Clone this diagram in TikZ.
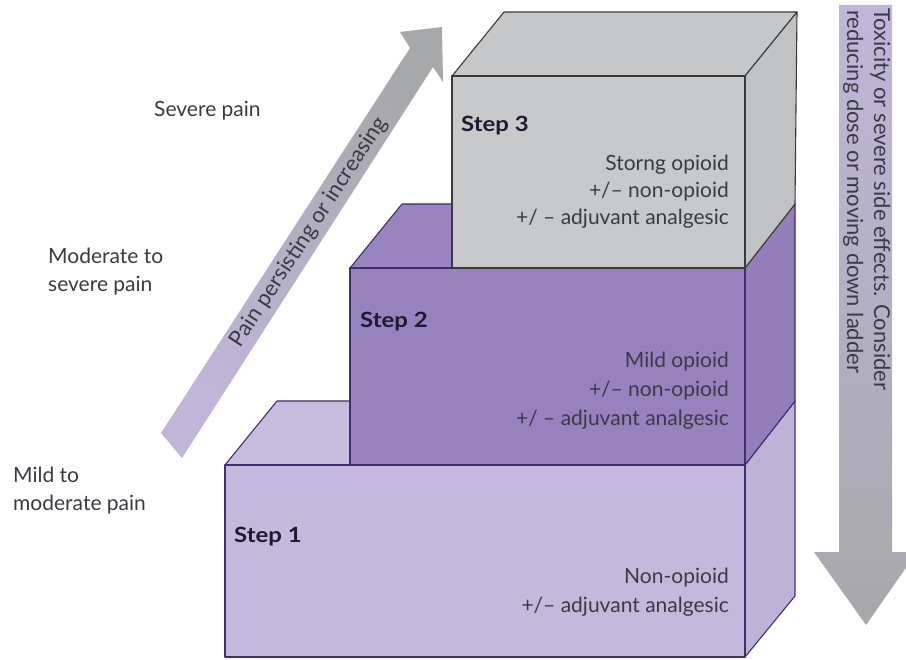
\documentclass[tikz,border=0pt]{standalone}
\usepackage{fontspec}
\setmainfont{Lato}
\newfontfamily\stepfont{Lato}[FakeStretch=1.14]
\definecolor{sonefront}{HTML}{C4B9DD}
\definecolor{sonetop}{HTML}{C7BDDF}
\definecolor{soneside}{HTML}{BDB2D8}
\definecolor{stwofront}{HTML}{9682BF}
\definecolor{stwotop}{HTML}{9884C1}
\definecolor{stwoside}{HTML}{927EBB}
\definecolor{sthreefront}{HTML}{C8C9CB}
\definecolor{sthreetop}{HTML}{C6C7C9}
\definecolor{sthreeside}{HTML}{C1C2C4}
\definecolor{purpline}{HTML}{3E2F6E}
\definecolor{grayline}{HTML}{3A3A3A}
\definecolor{arrlav}{HTML}{C0B6DA}
\definecolor{arrgray}{HTML}{A7A8AA}
\definecolor{txt}{HTML}{3A3A44}
\definecolor{steptxt}{HTML}{1E1A30}
\tikzset{
  boxpurple/.style={draw=purpline, line width=1.1pt, line join=round},
  boxgray/.style={draw=grayline, line width=1.1pt, line join=round},
  label/.style={text=txt, inner sep=0pt, align=left},
  stepname/.style={text=steptxt, inner sep=0pt, font=\fontsize{21}{28}\selectfont\stepfont\bfseries},
  stepdesc/.style={text=txt, inner sep=0pt, align=right, font=\fontsize{21}{29}\selectfont},
  arrowtext/.style={text=txt, inner sep=0pt, font=\fontsize{22}{28}\selectfont}
}
\begin{document}
\begin{tikzpicture}[x=1pt,y=-1pt,font=\fontsize{21}{28}\selectfont]
\useasboundingbox (0,0) rectangle (906,660);
\fill[white] (0,0) rectangle (906,660);

% ---- left arrow (pain increasing)
\shade[top color=arrgray, bottom color=arrlav, shading angle=-33]
  (161,433) -- (410,48) -- (400,32) -- (442,27) -- (443,82) -- (433,67) -- (182,458) -- cycle;
\node[arrowtext, rotate=57] (pain) at (309,232) {Pain persisting or increasing};

% ---- right arrow (toxicity)
\shade[top color=arrlav, bottom color=arrgray]
  (839,5) -- (892,5) -- (892,552) -- (917,552) -- (866,625) -- (814,552) -- (839,552) -- cycle;
\node[arrowtext, rotate=-90, anchor=base west] (tox1) at (874,8) {Toxicity or severe side effects. Consider};
\node[arrowtext, rotate=-90, anchor=base west] (tox2) at (847,10) {reducing dose or moving down ladder};

% ---- step 1
\filldraw[boxpurple, fill=sonetop] (225,465) -- (277,401) -- (795,401) -- (745,465) -- cycle;
\filldraw[boxpurple, fill=soneside] (745,465) -- (795,401) -- (795,596) -- (745,657) -- cycle;
\filldraw[boxpurple, fill=sonefront] (225,465) rectangle (745,657);

% ---- step 2
\filldraw[boxpurple, fill=stwotop] (350,268) -- (402,204) -- (795,204) -- (745,268) -- cycle;
\filldraw[boxpurple, fill=stwoside] (745,268) -- (795,204) -- (795,401) -- (745,465) -- cycle;
\filldraw[boxpurple, fill=stwofront] (350,268) rectangle (745,465);

% ---- step 3
\filldraw[boxgray, fill=sthreetop] (452,76) -- (504,12) -- (797,12) -- (745,76) -- cycle;
\filldraw[boxgray, fill=sthreeside] (745,76) -- (797,12) -- (795,204) -- (745,268) -- cycle;
\filldraw[boxgray, fill=sthreefront] (452,76) rectangle (745,268);

% ---- step texts
\node[stepname, anchor=base west] (st1) at (234,543) {Step 1};
\node[stepdesc, anchor=east] (d1) at (729,592) {Non-opioid\\+/– adjuvant analgesic};
\node[stepname, anchor=base west] (st2) at (360,328) {Step 2};
\node[stepdesc, anchor=east] (d2) at (729,391) {Mild opioid\\+/– non-opioid\\+/ – adjuvant analgesic};
\node[stepname, anchor=base west] (st3) at (461,132) {Step 3};
\node[stepdesc, anchor=east, font=\fontsize{21}{27}\selectfont] (d3) at (729,192) {Storng opioid\\+/– non-opioid\\+/ – adjuvant analgesic};

% ---- pain levels
\node[label, anchor=base west] (sev) at (154,117) {Severe pain};
\node[label, anchor=base west] (mod) at (48,292) {Moderate to\\severe pain};
\node[label, anchor=base west] (mild) at (13,511) {Mild to\\moderate pain};
\end{tikzpicture}
\end{document}
